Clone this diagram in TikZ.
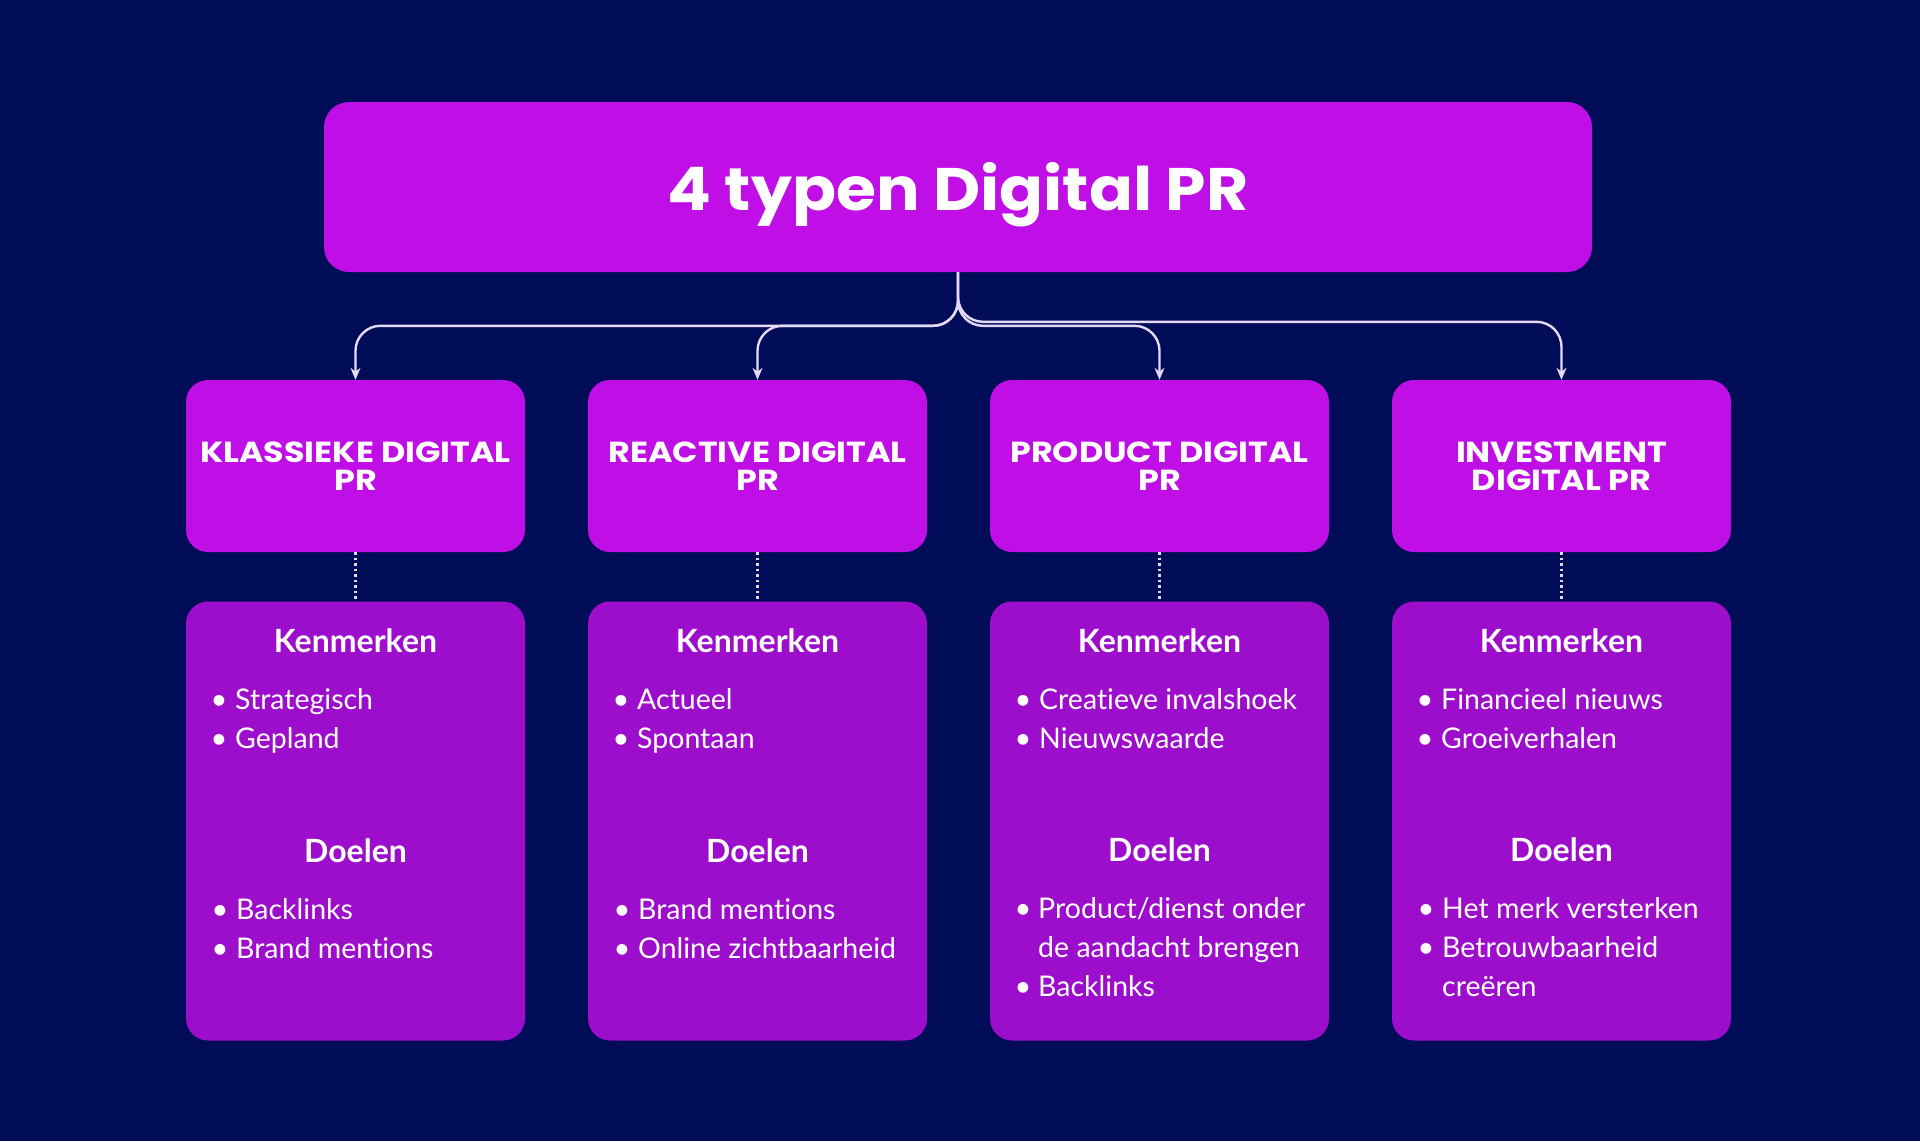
\documentclass[tikz,border=0pt]{standalone}
\usepackage{fontspec}
\setmainfont{Lato}[Ligatures=NoCommon]
\newfontfamily\titlefont{Poppins}[FakeStretch=1.08]
\newfontfamily\headfont{Poppins}[FakeStretch=1.15]
\usetikzlibrary{arrows.meta,calc}
\definecolor{bg}{HTML}{000C57}
\definecolor{hd}{HTML}{C00EE6}
\definecolor{bx}{HTML}{9C0DCC}
\definecolor{ln}{HTML}{E4DAF7}
\begin{document}
\begin{tikzpicture}[x=1pt,y=-1pt,
  titlebox/.style={fill=hd,rounded corners=25pt,minimum width=1268pt,minimum height=170pt,inner sep=0pt},
  titletxt/.style={anchor=base,inner sep=0pt,text=white,font=\titlefont\bfseries\fontsize{60}{60}\selectfont},
  headbox/.style={fill=hd,rounded corners=22pt,minimum width=339pt,minimum height=172pt,inner sep=0pt,text=white,align=center,font=\headfont\bfseries\fontsize{29}{27.5}\selectfont},
  detbox/.style={fill=bx,rounded corners=22pt,minimum width=339pt,minimum height=439pt,inner sep=0pt},
  sect/.style={anchor=base,text=white,inner sep=0pt,font=\bfseries\fontsize{32}{38}\selectfont},
  itemtxt/.style={anchor=base west,text=white,inner sep=0pt,font=\fontsize{28.5}{39}\selectfont},
  bul/.style={anchor=base,text=white,inner sep=0pt,font=\fontsize{29}{39}\selectfont},
  conn/.style={draw=ln,line width=2.4pt,rounded corners=25pt,-{Stealth[length=12pt,width=10pt]}},
  dots/.style={draw=ln,line width=2.2pt,dash pattern=on 2.5pt off 3pt}
]
\fill[bg] (0,0) rectangle (1920,1141);
\path[use as bounding box] (0,0) rectangle (1920,1141);

\node[titlebox] (top) at (958,187) {};
\node[titletxt] (title) at (958,210) {4 typen Digital PR};

\node[headbox] (h1) at (355.5,466) {KLASSIEKE DIGITAL\\PR};
\node[headbox] (h2) at (757.5,466) {REACTIVE DIGITAL\\PR};
\node[headbox] (h3) at (1159.5,466) {PRODUCT DIGITAL\\PR};
\node[headbox] (h4) at (1561.5,466) {INVESTMENT\\DIGITAL PR};

\node[detbox] (d1) at (355.5,821) {};
\node[detbox] (d2) at (757.5,821) {};
\node[detbox] (d3) at (1159.5,821) {};
\node[detbox] (d4) at (1561.5,821) {};

\draw[conn] (top.south) |- ($(h1.north)+(0,-54)$) -- (h1.north);
\draw[conn] (top.south) |- ($(h2.north)+(0,-54)$) -- (h2.north);
\draw[conn] (top.south) |- ($(h3.north)+(0,-54)$) -- (h3.north);
\draw[conn] (top.south) |- ($(h4.north)+(0,-58)$) -- (h4.north);

\foreach \i in {1,2,3,4}{\draw[dots] (h\i.south) -- (d\i.north);}

% box 1
\node[sect] (k1) at (355.5,652) {Kenmerken};
\node[bul] (b1a) at (219,709) {•}; \node[itemtxt] (t1a) at (235,709) {Strategisch};
\node[bul] (b1b) at (219,748) {•}; \node[itemtxt] (t1b) at (235,748) {Gepland};
\node[sect] (g1) at (355.5,862) {Doelen};
\node[bul] (b1c) at (220,919) {•}; \node[itemtxt] (t1c) at (236,919) {Backlinks};
\node[bul] (b1d) at (220,958) {•}; \node[itemtxt] (t1d) at (236,958) {Brand mentions};

% box 2
\node[sect] (k2) at (757.5,652) {Kenmerken};
\node[bul] (b2a) at (621,709) {•}; \node[itemtxt] (t2a) at (637,709) {Actueel};
\node[bul] (b2b) at (621,748) {•}; \node[itemtxt] (t2b) at (637,748) {Spontaan};
\node[sect] (g2) at (757.5,862) {Doelen};
\node[bul] (b2c) at (622,919) {•}; \node[itemtxt] (t2c) at (638,919) {Brand mentions};
\node[bul] (b2d) at (622,958) {•}; \node[itemtxt] (t2d) at (638,958) {Online zichtbaarheid};

% box 3
\node[sect] (k3) at (1159.5,652) {Kenmerken};
\node[bul] (b3a) at (1023,709) {•}; \node[itemtxt] (t3a) at (1039,709) {Creatieve invalshoek};
\node[bul] (b3b) at (1023,748) {•}; \node[itemtxt] (t3b) at (1039,748) {Nieuwswaarde};
\node[sect] (g3) at (1159.5,861) {Doelen};
\node[bul] (b3c) at (1023,918) {•}; \node[itemtxt] (t3c) at (1038,918) {Product/dienst onder};
\node[itemtxt] (t3c2) at (1038,957) {de aandacht brengen};
\node[bul] (b3d) at (1023,996) {•}; \node[itemtxt] (t3d) at (1038,996) {Backlinks};

% box 4
\node[sect] (k4) at (1561.5,652) {Kenmerken};
\node[bul] (b4a) at (1425,709) {•}; \node[itemtxt] (t4a) at (1441,709) {Financieel nieuws};
\node[bul] (b4b) at (1425,748) {•}; \node[itemtxt] (t4b) at (1441,748) {Groeiverhalen};
\node[sect] (g4) at (1561.5,861) {Doelen};
\node[bul] (b4c) at (1426,918) {•}; \node[itemtxt] (t4c) at (1442,918) {Het merk versterken};
\node[bul] (b4d) at (1426,957) {•}; \node[itemtxt] (t4d) at (1442,957) {Betrouwbaarheid};
\node[itemtxt] (t4d2) at (1442,996) {creëren};
\end{tikzpicture}
\end{document}
